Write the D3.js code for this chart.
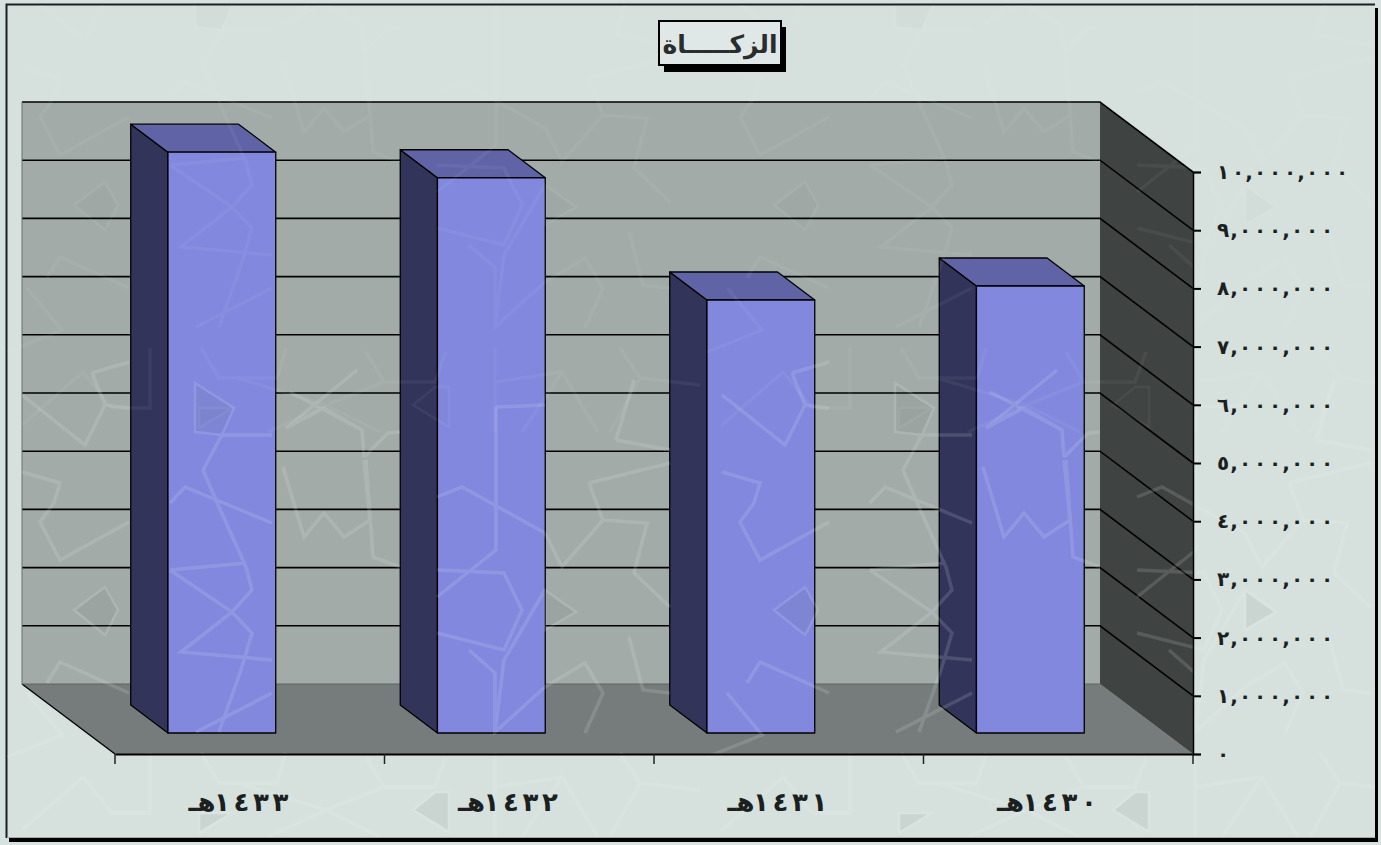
<!DOCTYPE html>
<html><head><meta charset="utf-8">
<script src="https://cdn.jsdelivr.net/npm/d3@7"></script>
<style>html,body{margin:0;padding:0;background:#d6e2df;overflow:hidden}svg{display:block}</style>
</head><body><div id="c"></div>
<script>
const categories = ["١٤٣٣","١٤٣٢","١٤٣١","١٤٣٠"];
const categorySuffix = "هـ";
const zakat = [9980000, 9540000, 7440000, 7680000];
const tickValues = [0,1e6,2e6,3e6,4e6,5e6,6e6,7e6,8e6,9e6,1e7];
const tickLabels = ["٠","١,٠٠٠,٠٠٠","٢,٠٠٠,٠٠٠","٣,٠٠٠,٠٠٠","٤,٠٠٠,٠٠٠","٥,٠٠٠,٠٠٠","٦,٠٠٠,٠٠٠","٧,٠٠٠,٠٠٠","٨,٠٠٠,٠٠٠","٩,٠٠٠,٠٠٠","١٠,٠٠٠,٠٠٠"];
const title = "الزكـــــاة";

// decorative watermark traced from the background, one 700 x 405 repeat
const wmLines = [
 [[272,435],[222,435],[203,470],[219,507],[246,567],[252,590],[232,612],[181,652],[272,660]],
 [[170,503],[185,487],[272,523]],
 [[170,570],[246,563]],
 [[170,570],[232,612],[252,633],[241,670],[219,732]],
 [[272,693],[196,732]],
 [[286,428],[324,408],[362,430],[364,457]],
 [[290,392],[362,430]],[[357,370],[286,428]],
 [[283,467],[304,537],[324,513],[344,537],[370,520],[364,460]],
 [[366,460],[373,557],[400,567]],[[364,457],[388,433],[400,432]],
 [[92,373],[129,362]],[[92,373],[105,405],[85,445],[22,395]],[[105,405],[129,408]],
 [[22,472],[60,483],[54,503],[40,522],[60,560],[129,522]],
 [[47,683],[60,662],[129,693]],
 [[22,830],[83,777],[112,813],[150,813],[150,753]],
 [[7,757],[62,735],[27,693]],
 [[201,753],[219,783],[277,783],[286,753]],
 [[237,783],[326,810],[268,837]],[[326,810],[384,787]],[[326,810],[380,837]],
 [[366,757],[384,787],[435,787],[446,757]],
 [[495,753],[495,837]],[[495,787],[562,777],[598,837]],[[562,777],[522,837]],
 [[496,407],[496,550],[437,597]],[[545,405],[496,407]],
 [[437,497],[462,487],[545,533]],
 [[437,570],[504,573],[522,610],[504,650],[437,633]],
 [[545,590],[504,660],[495,732]],
 [[469,650],[495,673],[495,732],[545,687]],
 [[545,533],[562,567],[603,520],[647,523],[634,573],[670,607]],
 [[589,483],[670,463]],[[589,483],[603,520]],
 [[629,637],[643,690],[670,693]],
 [[545,687],[585,663],[603,693],[585,733]],
 [[616,440],[670,450]],[[616,440],[634,380]],
 [[640,783],[700,790]],[[620,753],[640,783],[610,837]]
];
const wmKites = [
 [[195,383],[234,408],[222,435],[195,432]],
 [[74,610],[105,587],[118,610],[105,635]],
 [[199,813],[232,813],[199,833]],
 [[413,810],[435,792],[449,792],[449,832]],
 [[545,590],[576,612],[545,630]]
];
const wmRepeats = [[0,0,0.14],[700,0,0.14],[0,-405,0.05],[700,-405,0.05]];

const W=1381,H=845;
const svg=d3.select("#c").append("svg").attr("width",W).attr("height",H);
const font="'DejaVu Sans','Noto Sans',sans-serif";
const ink="#1c1f1f";

const x=d3.scaleBand().domain(categories).range([115,1193]);
const y=d3.scaleLinear().domain([0,1e7]).range([754,172]);
const dep=d3.scaleLinear().domain([0,1]).range([0,1]);
const DX=-93,DY=-70;
const px=(xv,d)=>xv+DX*dep(d), py=(yv,d)=>yv+DY*dep(d);
const pts=a=>a.map(p=>p.join(",")).join(" ");
const barFrac=0.4, frontD=0.3, backD=0.7;

svg.append("rect").attr("width",W).attr("height",H).attr("fill","#d6e2df");
// frame
svg.append("rect").attr("x",9).attr("y",8).attr("width",1369).attr("height",834).attr("fill","#000");
svg.append("rect").attr("x",6).attr("y",4).attr("width",1369).attr("height",834).attr("fill","#d6e1de");
svg.append("path").attr("d","M6.5,838V4.5H1375").attr("fill","none").attr("stroke",ink).attr("stroke-width",2);
svg.append("path").attr("d","M7,837.5H1375").attr("fill","none").attr("stroke","#a3aba9").attr("stroke-width",1);

const x0=x.range()[0],x1=x.range()[1],y0=y(0),yT=y(1e7);
// walls
svg.append("polygon").attr("points",pts([[px(x0,1),py(yT,1)],[px(x1,1),py(yT,1)],[px(x1,1),py(y0,1)],[px(x0,1),py(y0,1)]])).attr("fill","#a3aba8");
svg.append("polygon").attr("points",pts([[px(x0,1),py(y0,1)],[px(x1,1),py(y0,1)],[x1,y0],[x0,y0]])).attr("fill","#767c7b");
svg.append("polygon").attr("points",pts([[px(x1,1),py(yT,1)],[x1,yT],[x1,y0],[px(x1,1),py(y0,1)]])).attr("fill","#3f4341");

// gridlines
const grid=svg.append("g").attr("stroke","#000").attr("fill","none").attr("stroke-width",1.6);
tickValues.filter(v=>v>0).forEach(v=>{
  grid.append("polyline").attr("points",pts([[px(x0,1),py(y(v),1)],[px(x1,1),py(y(v),1)],[x1,y(v)]]));
});
grid.append("line").attr("x1",px(x0,1)).attr("y1",py(y0,1)).attr("x2",x0).attr("y2",y0).attr("stroke-width",1.4);
svg.append("line").attr("x1",px(x0,1)).attr("y1",py(y0,1)).attr("x2",px(x1,1)).attr("y2",py(y0,1)).attr("stroke","#5d6362").attr("stroke-width",1);
svg.append("line").attr("x1",px(x0,1)).attr("y1",py(yT,1)).attr("x2",px(x0,1)).attr("y2",py(y0,1)).attr("stroke","#6b7170").attr("stroke-width",1);

// bars
const bw=x.bandwidth()*barFrac;
const bars=svg.append("g").attr("stroke","#000").attr("stroke-width",1.3).attr("stroke-linejoin","round");
categories.forEach((c,i)=>{
  const l=px(x(c)+x.bandwidth()/2-bw/2,frontD), r=l+bw;
  const b=py(y(0),frontD), t=py(y(zakat[i]),frontD);
  const sx=DX*(backD-frontD), sy=DY*(backD-frontD);
  bars.append("polygon").attr("points",pts([[l+sx,t+sy],[l,t],[l,b],[l+sx,b+sy]])).attr("fill","#32345a");
  bars.append("polygon").attr("points",pts([[l+sx,t+sy],[r+sx,t+sy],[r,t],[l,t]])).attr("fill","#6064a7");
  bars.append("rect").attr("x",l).attr("y",t).attr("width",bw).attr("height",b-t).attr("fill","#8188de");
});

// watermark over everything, clipped to the frame
svg.append("clipPath").attr("id","fr").append("rect").attr("x",7).attr("y",5).attr("width",1368).attr("height",832);
svg.append("filter").attr("id","soft").append("feGaussianBlur").attr("stdDeviation",0.7);
const wmRoot=svg.append("g").attr("clip-path","url(#fr)");
wmRepeats.forEach(([dx,dy,op])=>{
  const g=wmRoot.append("g").attr("transform",`translate(${dx},${dy})`).attr("opacity",op).attr("filter","url(#soft)");
  g.selectAll("polygon").data(wmKites).join("polygon").attr("points",pts).attr("fill","#5f6967").attr("fill-opacity",0.7).attr("stroke","#eef6f4").attr("stroke-width",2.5);
  g.selectAll("polyline").data(wmLines).join("polyline").attr("points",pts).attr("fill","none").attr("stroke","#eef6f4").attr("stroke-width",3.5).attr("stroke-linejoin","miter");
});

// axes
const xAxis=svg.append("g").attr("transform",`translate(0,${y0})`).call(d3.axisBottom(x).tickValues([]).tickSize(0).tickSizeOuter(0));
xAxis.selectAll("path").attr("stroke","#000").attr("stroke-width",2);
const edge=x.domain().map(c=>x(c)).concat(x1);
svg.append("g").selectAll("line").data(edge).join("line").attr("x1",d=>d).attr("x2",d=>d).attr("y1",y0).attr("y2",y0+10).attr("stroke","#222").attr("stroke-width",1.5);

const yAxis=svg.append("g").attr("transform",`translate(${x1},0)`).call(d3.axisRight(y).tickValues(tickValues).tickSize(8).tickFormat(""));
yAxis.selectAll("path").attr("stroke","#000").attr("stroke-width",1.5);
yAxis.selectAll("line").attr("stroke","#000").attr("stroke-width",2);

// tick labels: every character is spaced by hand because the browser drops letter-spacing on Arabic text
const digitPitch=15, commaPitch=11;
svg.append("g").selectAll("text").data(tickValues).join("text")
 .attr("y",d=>y(d)+7).attr("text-anchor","middle").attr("direction","ltr")
 .attr("font-family",font).attr("font-size",20).attr("font-weight","bold").attr("fill",ink)
 .each(function(d,i){
   const t=d3.select(this); let cx=1223; const cs=[...tickLabels[i]];
   cs.forEach((ch,k)=>{
     t.append("tspan").attr("x",cx).text(ch);
     const nx=cs[k+1];
     if(nx) cx+=(ch===","||nx===",")?commaPitch:digitPitch;
   });
 });

// category labels
const labelPitch=19.5;
svg.append("g").selectAll("text").data(categories).join("text")
 .attr("y",811).attr("text-anchor","middle")
 .attr("font-family",font).attr("font-size",26).attr("font-weight","bold").attr("fill",ink)
 .each(function(d){
   const t=d3.select(this), start=x(d)+107;
   [...d].forEach((ch,k)=>t.append("tspan").attr("x",start+k*labelPitch).text(ch));
   t.append("tspan").attr("x",start-20).attr("direction","rtl").text(categorySuffix);
 });

// title
svg.append("rect").attr("x",664).attr("y",27).attr("width",122).attr("height",45).attr("fill","#000");
svg.append("rect").attr("x",659).attr("y",21).attr("width",122).attr("height",44).attr("fill","#dfe8e6").attr("stroke","#000").attr("stroke-width",2);
svg.append("text").attr("x",720).attr("y",53).attr("text-anchor","middle").attr("direction","rtl").attr("font-family",font).attr("font-size",25).attr("font-weight","bold").attr("fill","#2a2d2d").text(title);
</script></body></html>
